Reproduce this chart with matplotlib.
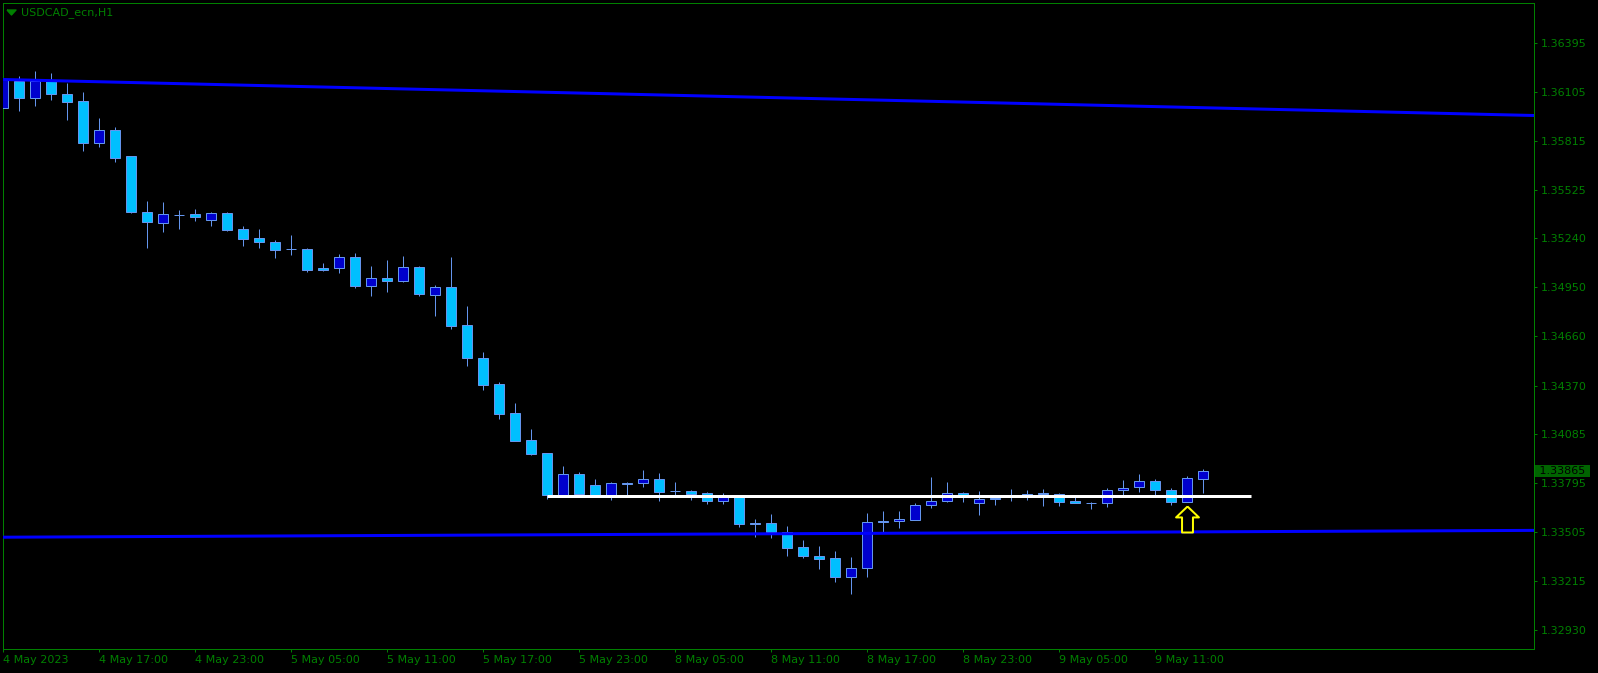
import matplotlib
matplotlib.use('Agg')
import matplotlib.pyplot as plt
import numpy as np
from matplotlib.path import Path

# USDCAD_ecn H1 candles, 4 May 11:00 .. 9 May 14:00
opens = [1.36010, 1.36170, 1.36069, 1.36166, 1.36091, 1.36050, 1.35804, 1.35879, 1.35723, 1.35393,
         1.35331, 1.35375, 1.35383, 1.35349, 1.35387, 1.35293, 1.35239, 1.35216, 1.35174, 1.35176,
         1.35064, 1.35066, 1.35129, 1.34960, 1.35005, 1.34989, 1.35068, 1.34907, 1.34950, 1.34726,
         1.34531, 1.34378, 1.34207, 1.34047, 1.33971, 1.33726, 1.33847, 1.33782, 1.33726, 1.33795,
         1.33793, 1.33817, 1.33746, 1.33748, 1.33736, 1.33691, 1.33717, 1.33557, 1.33559, 1.33506,
         1.33417, 1.33364, 1.33352, 1.33242, 1.33292, 1.33571, 1.33569, 1.33579, 1.33664, 1.33687,
         1.33734, 1.33675, 1.33708, 1.33714, 1.33729, 1.33734, 1.33729, 1.33687, 1.33677, 1.33675,
         1.33752, 1.33770, 1.33805, 1.33752, 1.33685, 1.33817]
highs = [1.36181, 1.36197, 1.36227, 1.36215, 1.36158, 1.36103, 1.35948, 1.35896, 1.35725, 1.35460,
         1.35452, 1.35406, 1.35412, 1.35395, 1.35393, 1.35312, 1.35294, 1.35229, 1.35259, 1.35184,
         1.35094, 1.35147, 1.35153, 1.35076, 1.35111, 1.35135, 1.35076, 1.34964, 1.35129, 1.34840,
         1.34568, 1.34390, 1.34267, 1.34114, 1.33971, 1.33896, 1.33860, 1.33819, 1.33799, 1.33801,
         1.33872, 1.33854, 1.33801, 1.33754, 1.33742, 1.33736, 1.33718, 1.33585, 1.33612, 1.33540,
         1.33459, 1.33423, 1.33394, 1.33358, 1.33618, 1.33630, 1.33630, 1.33677, 1.33831, 1.33801,
         1.33742, 1.33748, 1.33724, 1.33760, 1.33754, 1.33760, 1.33736, 1.33713, 1.33685, 1.33766,
         1.33813, 1.33848, 1.33817, 1.33766, 1.33837, 1.33878]
lows = [1.36003, 1.35993, 1.36022, 1.36056, 1.35938, 1.35756, 1.35778, 1.35692, 1.35389, 1.35184,
        1.35278, 1.35296, 1.35343, 1.35314, 1.35285, 1.35196, 1.35184, 1.35125, 1.35141, 1.35042,
        1.35048, 1.35036, 1.34948, 1.34901, 1.34924, 1.34984, 1.34901, 1.34783, 1.34706, 1.34488,
        1.34346, 1.34175, 1.34040, 1.33962, 1.33703, 1.33721, 1.33721, 1.33721, 1.33697, 1.33726,
        1.33773, 1.33691, 1.33726, 1.33697, 1.33673, 1.33673, 1.33537, 1.33478, 1.33472, 1.33364,
        1.33354, 1.33289, 1.33211, 1.33140, 1.33242, 1.33508, 1.33531, 1.33577, 1.33649, 1.33685,
        1.33685, 1.33608, 1.33667, 1.33691, 1.33697, 1.33661, 1.33661, 1.33674, 1.33644, 1.33655,
        1.33724, 1.33742, 1.33724, 1.33667, 1.33683, 1.33738]
closes = [1.36178, 1.36069, 1.36166, 1.36093, 1.36046, 1.35804, 1.35877, 1.35715, 1.35396, 1.35337,
          1.35381, 1.35375, 1.35367, 1.35387, 1.35290, 1.35237, 1.35219, 1.35172, 1.35174, 1.35054,
          1.35054, 1.35129, 1.34960, 1.35003, 1.34989, 1.35068, 1.34912, 1.34950, 1.34724, 1.34531,
          1.34375, 1.34204, 1.34045, 1.33968, 1.33726, 1.33847, 1.33730, 1.33726, 1.33793, 1.33788,
          1.33817, 1.33744, 1.33746, 1.33732, 1.33691, 1.33718, 1.33555, 1.33551, 1.33508, 1.33413,
          1.33366, 1.33348, 1.33242, 1.33293, 1.33563, 1.33563, 1.33583, 1.33665, 1.33689, 1.33734,
          1.33720, 1.33699, 1.33703, 1.33714, 1.33724, 1.33730, 1.33685, 1.33675, 1.33675, 1.33752,
          1.33764, 1.33805, 1.33752, 1.33685, 1.33823, 1.33865]

tick_bars = [0, 6, 12, 18, 24, 30, 36, 42, 48, 54, 60, 66, 72]
tick_names = ['4 May 2023', '4 May 17:00', '4 May 23:00', '5 May 05:00', '5 May 11:00',
              '5 May 17:00', '5 May 23:00', '8 May 05:00', '8 May 11:00', '8 May 17:00',
              '8 May 23:00', '9 May 05:00', '9 May 11:00']
price_ticks = [1.36395, 1.36105, 1.35815, 1.35525, 1.35240, 1.34950, 1.34660,
               1.34370, 1.34085, 1.33795, 1.33505, 1.33215, 1.32930]

# trend lines (two anchor points each) and the horizontal level
upper_bars, upper_prices = [0, 95], [1.36177, 1.35966]
lower_bars, lower_prices = [0, 95], [1.33475, 1.33515]
level_bars, level_price = [34, 78], 1.33717
arrow_bar, arrow_price = 74, 1.33585

GREEN = '#008000'
BULL = '#0000CD'
BEAR = '#00BFFF'
WICK = '#6495ED'
px = 0.72  # one pixel in points at dpi 100

fig = plt.figure(figsize=(15.98, 6.73), dpi=100, facecolor='black')
ax = fig.add_axes([3/1598, 24/673, 1531/1598, 646.4/673], facecolor='black')

x = np.arange(len(opens))
o = np.array(opens); c = np.array(closes)
fills = [BULL if cc > oo else BEAR for oo, cc in zip(o, c)]

ax.vlines(x, lows, highs, color=WICK, linewidth=px, zorder=2)
ax.bar(x, np.abs(c - o), width=0.625, bottom=np.minimum(o, c), color=fills,
       edgecolor=WICK, linewidth=px, zorder=3)

ax.axline((upper_bars[0], upper_prices[0]), (upper_bars[1], upper_prices[1]),
          color='#0000FF', linewidth=3*px, zorder=4)
ax.axline((lower_bars[0], lower_prices[0]), (lower_bars[1], lower_prices[1]),
          color='#0000FF', linewidth=3*px, zorder=4)
ax.plot(level_bars, [level_price, level_price], color='white', linewidth=3*px,
        solid_capstyle='butt', zorder=5)

# up arrow under the signal candle
arrow = Path([(0, 0.5), (0.44, 0.08), (0.21, 0.08), (0.21, -0.5), (-0.21, -0.5),
              (-0.21, 0.08), (-0.44, 0.08), (0, 0.5)])
ax.plot([arrow_bar], [arrow_price], marker=arrow, markersize=26*px,
        markerfacecolor='black', markeredgecolor='#FFFF00', markeredgewidth=2*px, zorder=6)

ax.set_xlim(-0.02, 95.67)
ax.set_ylim(1.32815, 1.36631)

for s in ax.spines.values():
    s.set_color(GREEN)
    s.set_linewidth(px)

ax.yaxis.tick_right()
ax.set_yticks(price_ticks)
ax.set_yticklabels([f'{p:.5f}' for p in price_ticks])
ax.set_xticks(tick_bars)
ax.set_xticklabels(tick_names)
for lbl in ax.get_xticklabels():
    lbl.set_ha('left')
ax.tick_params(axis='both', colors=GREEN, labelcolor=GREEN, labelsize=8,
               direction='out', length=2.2, width=px)
ax.tick_params(axis='y', pad=3)
ax.tick_params(axis='x', pad=2)

# current price tag
ax.annotate(f' {closes[-1]:.5f} ', xy=(1, closes[-1]), xycoords=('axes fraction', 'data'),
            xytext=(1.4, 0), textcoords='offset points', ha='left', va='center',
            fontsize=8, color='black', annotation_clip=False,
            bbox=dict(boxstyle='square,pad=0.1', fc='#006400', ec='none'))

# symbol caption with the little triangle
tri = Path([(-1, 0.55), (1, 0.55), (0, -0.55), (-1, 0.55)])
ax.plot([0.0049], [0.9847], marker=tri, markersize=9*px, color=GREEN,
        transform=ax.transAxes, clip_on=False)
fig.text(21/1598, 1 - 13/673, 'USDCAD_ecn,H1', color=GREEN, fontsize=8, va='center', ha='left')

fig.savefig('out.png', dpi=100, facecolor='black')
